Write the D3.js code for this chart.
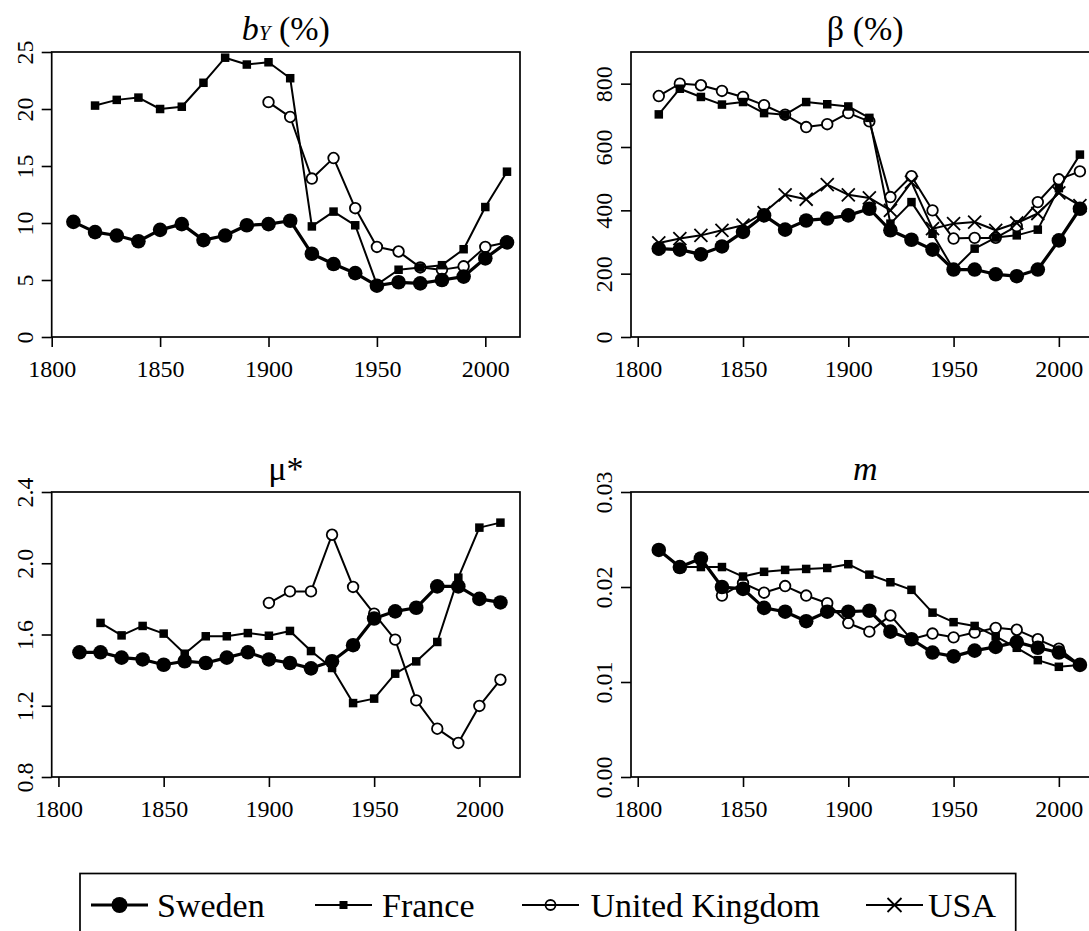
<!DOCTYPE html>
<html>
<head>
<meta charset="utf-8">
<script src="https://cdn.jsdelivr.net/npm/d3@7"></script>
<style>
  body { margin: 0; background: #fff; }
  svg { display: block; }
  text { font-family: "Liberation Serif", "Times New Roman", serif; fill: #000; }
</style>
</head>
<body>
<script>
// Observation years (one point per decade)
const years = [1810, 1820, 1830, 1840, 1850, 1860, 1870, 1880, 1890, 1900,
               1910, 1920, 1930, 1940, 1950, 1960, 1970, 1980, 1990, 2000, 2010];

// b_Y (%) — annual flow of inheritance relative to national income
const bySweden = [10.1, 9.2, 8.9, 8.4, 9.4, 9.9, 8.5, 8.9, 9.8, 9.9, 10.2, 7.3, 6.4, 5.6, 4.5, 4.8, 4.7, 5.0, 5.3, 6.9, 8.3];
const byFrance = [null, 20.3, 20.8, 21.0, 20.0, 20.2, 22.3, 24.5, 23.9, 24.1, 22.7, 9.7, 11.0, 9.8, 4.6, 5.9, 6.1, 6.3, 7.7, 11.4, 14.5];
const byUK     = [null, null, null, null, null, null, null, null, null, 20.6, 19.3, 13.9, 15.7, 11.3, 7.9, 7.5, 6.1, 5.9, 6.2, 7.9, 8.3];

// beta (%) — wealth-income ratio
const betaSweden = [279, 276, 261, 286, 332, 384, 339, 368, 374, 384, 405, 337, 307, 276, 213, 213, 198, 192, 213, 305, 405];
const betaFrance = [703, 784, 758, 734, 742, 707, 702, 742, 735, 728, 692, 358, 426, 326, 213, 279, 314, 321, 339, 470, 576];
const betaUK     = [761, 800, 795, 777, 758, 732, 702, 663, 672, 707, 681, 442, 508, 400, 311, 313, 313, 350, 426, 498, 523];
const betaUSA    = [297, 311, 321, 337, 353, 393, 449, 435, 481, 449, 439, 400, 489, 342, 358, 363, 337, 360, 390, 455, 415];

// mu* — relative wealth of decedents
const muSweden = [1.50, 1.50, 1.47, 1.46, 1.43, 1.45, 1.44, 1.47, 1.50, 1.46, 1.44, 1.41, 1.45, 1.54, 1.69, 1.73, 1.75, 1.87, 1.87, 1.80, 1.78];
const muFrance = [null, 1.665, 1.595, 1.648, 1.605, 1.492, 1.590, 1.590, 1.608, 1.593, 1.620, 1.507, 1.412, 1.215, 1.240, 1.380, 1.449, 1.558, 1.919, 2.200, 2.228];
const muUK     = [null, null, null, null, null, null, null, null, null, 1.777, 1.842, 1.842, 2.160, 1.867, 1.717, 1.571, 1.230, 1.071, 0.991, 1.199, 1.346];

// m — mortality rate
const mSweden = [0.0239, 0.0221, 0.0230, 0.0200, 0.0198, 0.0178, 0.0174, 0.0164, 0.0174, 0.0174, 0.0175, 0.0153, 0.0145, 0.0131, 0.0127, 0.0133, 0.0137, 0.0142, 0.0136, 0.0131, 0.0118];
const mFrance = [null, 0.0221, 0.0221, 0.0221, 0.0211, 0.0216, 0.0218, 0.0219, 0.0220, 0.0224, 0.0213, 0.0205, 0.0197, 0.0173, 0.0163, 0.0159, 0.0148, 0.0136, 0.0123, 0.0116, 0.0118];
const mUK     = [null, null, null, 0.0191, 0.0204, 0.0194, 0.0201, 0.0191, 0.0183, 0.0162, 0.0153, 0.0170, 0.0145, 0.0151, 0.0147, 0.0152, 0.0157, 0.0155, 0.0145, 0.0135, 0.0118];

// Axis ticks
const xTicks = [1800, 1850, 1900, 1950, 2000];
const byTicks = [0, 5, 10, 15, 20, 25];
const betaTicks = [0, 200, 400, 600, 800];
const muTicks = [0.8, 1.2, 1.6, 2.0, 2.4];
const mTicks = [0.00, 0.01, 0.02, 0.03];

const countries = ["Sweden", "France", "United Kingdom", "USA"];

// Marker / line styles per country
const styles = {
  "Sweden":         { shape: "disc",   size: 7.3, lw: 3.2, gap: 0 },
  "France":         { shape: "square", size: 8.5, lw: 2,   gap: 0 },
  "United Kingdom": { shape: "ring",   size: 5.3, lw: 2,   gap: 5.6 },
  "USA":            { shape: "cross",  size: 6.5, lw: 2,   gap: 0 }
};

const FONT = '"Liberation Serif", "Times New Roman", serif';
const W = 1089, H = 931;
const svg = d3.select("body").append("svg").attr("width", W).attr("height", H);

const panels = [
  { title: "bY", box: [51.7, 520, 52, 337], xDom: [1800, 2016], yDom: [0, 25], yTicks: byTicks,
    fmt: d => String(d), series: { "Sweden": bySweden, "France": byFrance, "United Kingdom": byUK } },
  { title: "beta", box: [631, 1099.5, 52, 337], xDom: [1796.8, 2019.3], yDom: [0, 900], yTicks: betaTicks,
    fmt: d => String(d), series: { "Sweden": betaSweden, "France": betaFrance, "United Kingdom": betaUK, "USA": betaUSA } },
  { title: "mu", box: [51.7, 520, 492, 777], xDom: [1796.8, 2019.3], yDom: [0.8, 2.4], yTicks: muTicks,
    fmt: d3.format(".1f"), series: { "Sweden": muSweden, "France": muFrance, "United Kingdom": muUK } },
  { title: "m", box: [631, 1099.5, 492, 777], xDom: [1796.8, 2019.3], yDom: [0, 0.03], yTicks: mTicks,
    fmt: d3.format(".2f"), series: { "Sweden": mSweden, "France": mFrance, "United Kingdom": mUK } }
];

function drawMarker(g, shape, s, cx, cy) {
  if (shape === "disc") {
    g.append("circle").attr("cx", cx).attr("cy", cy).attr("r", s).attr("fill", "#000");
  } else if (shape === "square") {
    g.append("rect").attr("x", cx - s / 2).attr("y", cy - s / 2).attr("width", s).attr("height", s).attr("fill", "#000");
  } else if (shape === "ring") {
    g.append("circle").attr("cx", cx).attr("cy", cy).attr("r", s)
      .attr("fill", "none").attr("stroke", "#000").attr("stroke-width", 1.8);
  } else if (shape === "cross") {
    g.append("path")
      .attr("d", `M${cx - s},${cy - s}L${cx + s},${cy + s}M${cx - s},${cy + s}L${cx + s},${cy - s}`)
      .attr("stroke", "#000").attr("stroke-width", 1.8).attr("fill", "none");
  }
}

panels.forEach(p => {
  const [x0, x1, y0, y1] = p.box;
  const x = d3.scaleLinear().domain(p.xDom).range([x0, x1]);
  const y = d3.scaleLinear().domain(p.yDom).range([y1, y0]);
  const g = svg.append("g");

  // x axis
  const xa = g.append("g").attr("transform", `translate(0,${y1})`)
    .call(d3.axisBottom(x).tickValues(xTicks).tickSize(10).tickFormat(d3.format("d")))
    .attr("font-family", FONT).attr("font-size", 24);
  xa.select(".domain").remove();
  xa.selectAll("line").attr("stroke-width", 1.6);
  xa.selectAll("text").attr("y", 40).attr("dy", 0).attr("fill", "#000");

  // y axis, labels rotated to read upward
  const ya = g.append("g").attr("transform", `translate(${x0},0)`)
    .call(d3.axisLeft(y).tickValues(p.yTicks).tickSize(10).tickFormat(p.fmt))
    .attr("font-family", FONT).attr("font-size", 24);
  ya.select(".domain").remove();
  ya.selectAll("line").attr("stroke-width", 1.6);
  ya.selectAll("text").attr("x", 0).attr("y", 0).attr("dy", 0)
    .attr("transform", "translate(-19,0) rotate(-90)")
    .attr("text-anchor", "middle").attr("fill", "#000");

  // frame
  g.append("rect").attr("x", x0).attr("y", y0).attr("width", x1 - x0).attr("height", y1 - y0)
    .attr("fill", "none").attr("stroke", "#000").attr("stroke-width", 1.7);

  // title
  const cx = (x0 + x1) / 2;
  const ty = y0 - 12;
  const t = g.append("text").attr("x", cx).attr("y", ty).attr("text-anchor", "middle")
    .attr("font-size", 34);
  if (p.title === "bY") {
    t.append("tspan").style("font-style", "italic").text("b");
    t.append("tspan").style("font-style", "italic").attr("font-size", 21).text("Y");
    t.append("tspan").text(" (%)");
  } else if (p.title === "beta") {
    t.text("β (%)");
  } else if (p.title === "mu") {
    t.text("μ*");
  } else {
    t.style("font-style", "italic").text("m");
  }

  // series: lines then markers, in legend order
  countries.forEach(c => {
    const vals = p.series[c];
    if (!vals) return;
    const st = styles[c];
    const pts = years.map((yr, i) => vals[i] == null ? null : [x(yr), y(vals[i])]);
    const sg = g.append("g");
    for (let i = 0; i < pts.length - 1; i++) {
      const a = pts[i], b = pts[i + 1];
      if (!a || !b) continue;
      const dx = b[0] - a[0], dy = b[1] - a[1];
      const len = Math.hypot(dx, dy);
      if (len <= 2 * st.gap) continue;
      const ux = dx / len, uy = dy / len;
      sg.append("line")
        .attr("x1", a[0] + ux * st.gap).attr("y1", a[1] + uy * st.gap)
        .attr("x2", b[0] - ux * st.gap).attr("y2", b[1] - uy * st.gap)
        .attr("stroke", "#000").attr("stroke-width", st.lw).attr("stroke-linecap", "round");
    }
    pts.forEach(pt => { if (pt) drawMarker(sg, st.shape, st.size, pt[0], pt[1]); });
  });
});

// legend
const legendItems = [
  { name: "Sweden",         lineX: 91,  textX: 157,   lw: 3.2, size: 8 },
  { name: "France",         lineX: 315, textX: 382,   lw: 2,   size: 8 },
  { name: "United Kingdom", lineX: 522, textX: 590.5, lw: 2,   size: 5 },
  { name: "USA",            lineX: 866, textX: 928,   lw: 2,   size: 7 }
];
const lg = svg.append("g");
lg.append("rect").attr("x", 80).attr("y", 873.5).attr("width", 1015.7 - 80).attr("height", 80)
  .attr("fill", "none").attr("stroke", "#000").attr("stroke-width", 1.7);
const ly = 905;
legendItems.forEach(it => {
  const st = styles[it.name];
  lg.append("line").attr("x1", it.lineX).attr("x2", it.lineX + 57).attr("y1", ly).attr("y2", ly)
    .attr("stroke", "#000").attr("stroke-width", it.lw);
  drawMarker(lg, st.shape, it.size, it.lineX + 28.5, ly);
  lg.append("text").attr("x", it.textX).attr("y", 917).attr("font-size", 34).text(it.name);
});
</script>
</body>
</html>
